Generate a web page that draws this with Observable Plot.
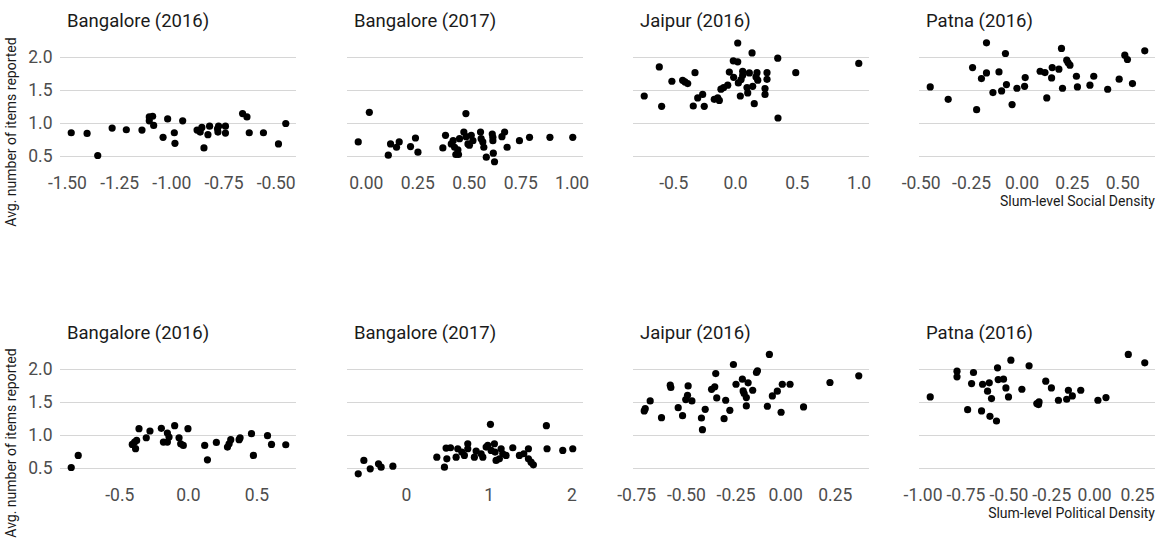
<!DOCTYPE html>
<html>
<head>
<meta charset="utf-8">
<script src="https://cdn.jsdelivr.net/npm/d3@7"></script>
<script src="https://cdn.jsdelivr.net/npm/@observablehq/plot@0.6"></script>
<style>
html,body{margin:0;padding:0;background:#fff;}
#chart{position:relative;width:1172px;height:542px;overflow:hidden;font-family:Roboto,"Noto Sans",sans-serif;}
#chart svg{position:absolute;overflow:visible;max-width:none;}
</style>
</head>
<body>
<div id="chart"></div>
<script>
// ---------- data ----------
const panelTitles = ["Bangalore (2016)", "Bangalore (2017)", "Jaipur (2016)", "Patna (2016)"];
const xAxisTitles = ["Slum-level Social Density", "Slum-level Political Density"];
const yAxisTitle = "Avg. number of items reported";
const yTicks = [0.5, 1.0, 1.5, 2.0];

// Social density (top row)
const blr16SocialX = [-1.482,-1.406,-1.355,-1.286,-1.218,-1.143,-1.108,-1.092,-1.108,-1.087,-1.042,-1.020,-0.988,-0.985,-0.948,-0.879,-0.864,-0.856,-0.846,-0.827,-0.819,-0.781,-0.776,-0.779,-0.743,-0.743,-0.661,-0.640,-0.629,-0.561,-0.489,-0.454];
const blr16SocialY = [0.86,0.85,0.515,0.93,0.905,0.90,1.10,1.11,1.04,0.97,0.79,1.07,0.86,0.70,1.04,0.90,0.87,0.94,0.63,0.83,0.96,0.92,0.96,0.87,0.96,0.855,1.15,1.10,0.86,0.86,0.69,1.0];

const blr17SocialX = [-0.039,0.015,0.107,0.118,0.147,0.160,0.215,0.239,0.251,0.372,0.385,0.413,0.422,0.429,0.435,0.448,0.445,0.453,0.474,0.484,0.485,0.494,0.510,0.518,0.501,0.555,0.558,0.566,0.571,0.583,0.612,0.615,0.615,0.617,0.623,0.659,0.672,0.684,0.744,0.793,0.892,1.003];
const blr17SocialY = [0.72,1.17,0.52,0.69,0.64,0.72,0.65,0.78,0.565,0.63,0.82,0.69,0.74,0.64,0.53,0.53,0.60,0.77,0.87,1.15,0.80,0.69,0.82,0.74,0.67,0.87,0.77,0.72,0.64,0.49,0.84,0.79,0.74,0.55,0.42,0.80,0.87,0.64,0.74,0.79,0.79,0.79];

const jaipurSocialX = [-0.739,-0.617,-0.598,-0.515,-0.428,-0.409,-0.387,-0.328,-0.342,-0.306,-0.266,-0.253,-0.172,-0.144,-0.131,-0.118,-0.096,-0.063,-0.050,-0.018,0.018,0.018,-0.015,0.023,0.039,0.045,0.058,0.058,0.093,0.099,0.112,0.134,0.139,0.152,0.166,0.174,0.180,0.239,0.239,0.255,0.255,0.342,0.344,0.488,0.998];
const jaipurSocialY = [1.417,1.858,1.26,1.64,1.655,1.63,1.605,1.77,1.265,1.387,1.44,1.26,1.367,1.39,1.35,1.52,1.545,1.58,1.78,1.95,1.935,2.22,1.70,1.615,1.417,1.666,1.79,1.73,1.545,1.463,1.767,2.07,1.564,1.30,1.706,1.77,1.656,1.53,1.44,1.77,1.67,1.99,1.083,1.77,1.91];

const patnaSocialX = [-0.455,-0.366,-0.245,-0.225,-0.201,-0.176,-0.176,-0.144,-0.114,-0.101,-0.082,-0.077,-0.049,-0.025,0.013,0.016,0.090,0.114,0.123,0.147,0.150,0.183,0.196,0.201,0.222,0.229,0.238,0.270,0.275,0.337,0.356,0.425,0.482,0.510,0.523,0.548,0.609];
const patnaSocialY = [1.554,1.367,1.848,1.21,1.681,1.767,2.223,1.468,1.782,1.493,2.061,1.59,1.286,1.534,1.564,1.696,1.792,1.772,1.387,1.691,1.848,1.823,2.137,1.534,1.96,1.919,1.884,1.716,1.554,1.58,1.716,1.519,1.671,2.036,1.97,1.605,2.102];

// Political density (bottom row)
const blr16PoliticalX = [-0.854,-0.803,-0.409,-0.392,-0.385,-0.377,-0.36,-0.307,-0.280,-0.197,-0.182,-0.153,-0.153,-0.141,-0.100,-0.068,-0.056,-0.037,-0.003,0.119,0.139,0.204,0.285,0.297,0.309,0.370,0.377,0.460,0.474,0.577,0.606,0.710];
const blr16PoliticalY = [0.515,0.698,0.865,0.90,0.80,0.926,1.103,0.966,1.068,1.108,0.90,0.90,1.037,0.976,1.149,0.966,0.875,0.85,1.103,0.85,0.632,0.895,0.824,0.875,0.936,0.936,0.966,1.027,0.698,0.997,0.865,0.86];

const blr17PoliticalX = [-0.583,-0.515,-0.438,-0.338,-0.306,-0.164,0.367,0.459,0.488,0.479,0.532,0.600,0.620,0.669,0.700,0.741,0.741,0.821,0.842,0.902,0.923,0.963,0.983,1.015,1.023,1.063,1.071,1.083,1.123,1.144,1.164,1.204,1.285,1.365,1.418,1.474,1.474,1.506,1.534,1.691,1.699,1.889,2.010];
const blr17PoliticalY = [0.419,0.622,0.495,0.571,0.52,0.535,0.672,0.52,0.647,0.809,0.814,0.672,0.799,0.748,0.698,0.875,0.799,0.672,0.764,0.723,0.672,0.824,0.85,1.169,0.774,0.875,0.748,0.622,0.647,0.799,0.723,0.698,0.814,0.698,0.723,0.799,0.647,0.596,0.556,1.149,0.799,0.774,0.799];

const jaipurPoliticalX = [-0.712,-0.707,-0.682,-0.625,-0.581,-0.578,-0.541,-0.519,-0.503,-0.494,-0.491,-0.472,-0.419,-0.424,-0.405,-0.373,-0.357,-0.352,-0.347,-0.310,-0.302,-0.281,-0.263,-0.250,-0.218,-0.214,-0.209,-0.198,-0.198,-0.189,-0.166,-0.147,-0.142,-0.092,-0.082,-0.067,-0.042,-0.023,-0.017,0.022,0.090,0.223,0.368];
const jaipurPoliticalY = [1.372,1.407,1.524,1.27,1.762,1.727,1.422,1.30,1.544,1.61,1.752,1.524,1.088,1.265,1.397,1.70,1.737,1.939,1.569,1.255,1.534,1.382,2.076,1.777,1.853,1.676,1.635,1.448,1.574,1.798,1.686,1.955,1.98,1.443,2.228,1.60,1.671,1.352,1.777,1.777,1.433,1.803,1.904];

const patnaPoliticalX = [-0.958,-0.802,-0.802,-0.740,-0.717,-0.706,-0.659,-0.653,-0.624,-0.614,-0.610,-0.601,-0.572,-0.566,-0.562,-0.531,-0.517,-0.502,-0.488,-0.424,-0.382,-0.337,-0.324,-0.327,-0.285,-0.252,-0.211,-0.163,-0.153,-0.130,-0.081,0.019,0.066,0.196,0.292];
const patnaPoliticalY = [1.585,1.975,1.889,1.392,1.787,1.955,1.372,1.777,1.671,1.798,1.291,1.559,1.22,2.026,1.848,1.853,1.721,1.585,2.142,1.701,2.056,1.483,1.509,1.468,1.823,1.721,1.534,1.549,1.686,1.60,1.686,1.534,1.574,2.228,2.102];

// x tick labels per panel
const ticksBlr16Social = [-1.5,-1.25,-1.0,-0.75,-0.5];
const ticksBlr17Social = [0,0.25,0.5,0.75,1.0];
const ticksJaipurSocial = [-0.5,0,0.5,1.0];
const ticksPatnaSocial = [-0.5,-0.25,0,0.25,0.5];
const ticksBlr16Political = [-0.5,0,0.5];
const ticksBlr17Political = [0,1,2];
const ticksJaipurPolitical = [-0.75,-0.5,-0.25,0,0.25];
const ticksPatnaPolitical = [-1.0,-0.75,-0.5,-0.25,0,0.25];

// ---------- layout ----------
const panels = [
  {row:0,col:0,x:blr16SocialX,y:blr16SocialY,ticks:ticksBlr16Social,fmt:".2f"},
  {row:0,col:1,x:blr17SocialX,y:blr17SocialY,ticks:ticksBlr17Social,fmt:".2f"},
  {row:0,col:2,x:jaipurSocialX,y:jaipurSocialY,ticks:ticksJaipurSocial,fmt:".1f"},
  {row:0,col:3,x:patnaSocialX,y:patnaSocialY,ticks:ticksPatnaSocial,fmt:".2f"},
  {row:1,col:0,x:blr16PoliticalX,y:blr16PoliticalY,ticks:ticksBlr16Political,fmt:".1f"},
  {row:1,col:1,x:blr17PoliticalX,y:blr17PoliticalY,ticks:ticksBlr17Political,fmt:"d"},
  {row:1,col:2,x:jaipurPoliticalX,y:jaipurPoliticalY,ticks:ticksJaipurPolitical,fmt:".2f"},
  {row:1,col:3,x:patnaPoliticalX,y:patnaPoliticalY,ticks:ticksPatnaPolitical,fmt:".2f"}
];

const colLeft = [60, 347, 633, 919];
const frameW = 236;
const rowTop = [36.3, 348.3];
const frameH = 131.3;

const allY = panels.flatMap(p => p.y);
const yMin = d3.min(allY), yMax = d3.max(allY), yPad = (yMax - yMin) * 0.05;
const yDomain = [yMin - yPad, yMax + yPad];

const chart = document.getElementById("chart");
const FONT = "Roboto, 'Noto Sans', sans-serif";

for (const p of panels) {
  const mL = p.col === 0 ? 60 : 20, mR = 20, mT = 10, mB = 40;
  const xmin = d3.min(p.x), xmax = d3.max(p.x), pad = (xmax - xmin) * 0.05;
  const f = d3.format(p.fmt);
  const fmt = v => f(v).replace("\u2212", "-");
  const data = p.x.map((xv, i) => ({x: xv, y: p.y[i]}));
  const svg = Plot.plot({
    width: frameW + mL + mR,
    height: frameH + mT + mB,
    marginLeft: mL, marginRight: mR, marginTop: mT, marginBottom: mB,
    style: {fontFamily: FONT, fontSize: "17.5px", color: "#4d4d4d", background: "transparent", overflow: "visible"},
    x: {domain: [xmin - pad, xmax + pad], ticks: p.ticks, tickFormat: fmt, tickSize: 0, tickPadding: 9, label: null},
    y: {domain: yDomain, ticks: yTicks, tickFormat: d3.format(".1f"), tickSize: 0, tickPadding: 8, label: null, axis: p.col === 0 ? "left" : null},
    marks: [
      Plot.gridY(yTicks, {stroke: "#d6d6d6", strokeOpacity: 1, strokeWidth: 1}),
      Plot.dot(data, {x: "x", y: "y", r: 3.6, fill: "#000"})
    ]
  });
  svg.style.position = "absolute";
  svg.style.left = (colLeft[p.col] - mL) + "px";
  svg.style.top = (rowTop[p.row] - mT) + "px";
  chart.appendChild(svg);
}

// ---------- text overlay (titles) ----------
const overlay = d3.select(chart).append("svg")
  .attr("width", 1172).attr("height", 542)
  .style("left", "0px").style("top", "0px")
  .style("font-family", FONT);

const titleBaseline = [26.7, 339];
for (let r = 0; r < 2; r++) {
  for (let c = 0; c < 4; c++) {
    overlay.append("text")
      .attr("x", colLeft[c] + 7).attr("y", titleBaseline[r])
      .attr("font-size", 18.5).attr("fill", "#1a1a1a")
      .text(panelTitles[c]);
  }
  overlay.append("text")
    .attr("transform", `translate(16,${[132, 443][r]}) rotate(-90)`)
    .attr("text-anchor", "middle")
    .attr("font-size", 14).attr("fill", "#1a1a1a")
    .text(yAxisTitle);
  overlay.append("text")
    .attr("x", colLeft[3] + frameW).attr("y", [206, 517.5][r])
    .attr("text-anchor", "end")
    .attr("font-size", 14).attr("fill", "#1a1a1a")
    .text(xAxisTitles[r]);
}
</script>
</body>
</html>
